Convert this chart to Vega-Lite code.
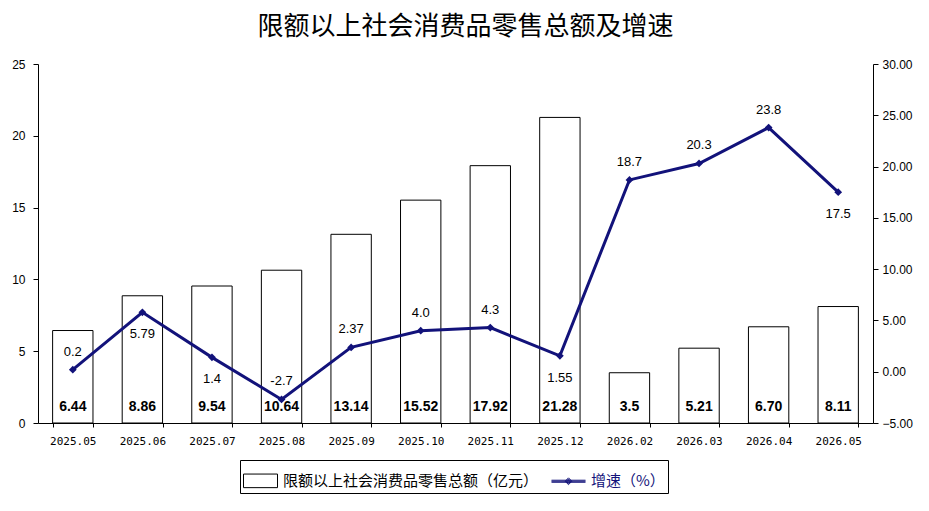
{
  "$schema": "https://vega.github.io/schema/vega-lite/v6.json",
  "width": 835,
  "height": 359,
  "autosize": {"type": "none"},
  "padding": {"left": 38, "top": 64, "right": 56, "bottom": 88},
  "title": {
    "text": "限额以上社会消费品零售总额及增速",
    "font": "Noto Sans CJK SC",
    "fontSize": 26,
    "fontWeight": "normal",
    "color": "#000000",
    "offset": 18,
    "dx": 10
  },
  "data": {
    "values": [
      {"month": "2025.05", "sales": 6.44, "sales_label": "6.44", "growth": 0.2, "growth_label": "0.2"},
      {"month": "2025.06", "sales": 8.86, "sales_label": "8.86", "growth": 5.79, "growth_label": "5.79"},
      {"month": "2025.07", "sales": 9.54, "sales_label": "9.54", "growth": 1.4, "growth_label": "1.4"},
      {"month": "2025.08", "sales": 10.64, "sales_label": "10.64", "growth": -2.7, "growth_label": "-2.7"},
      {"month": "2025.09", "sales": 13.14, "sales_label": "13.14", "growth": 2.37, "growth_label": "2.37"},
      {"month": "2025.10", "sales": 15.52, "sales_label": "15.52", "growth": 4.0, "growth_label": "4.0"},
      {"month": "2025.11", "sales": 17.92, "sales_label": "17.92", "growth": 4.3, "growth_label": "4.3"},
      {"month": "2025.12", "sales": 21.28, "sales_label": "21.28", "growth": 1.55, "growth_label": "1.55"},
      {"month": "2026.02", "sales": 3.5, "sales_label": "3.5", "growth": 18.7, "growth_label": "18.7"},
      {"month": "2026.03", "sales": 5.21, "sales_label": "5.21", "growth": 20.3, "growth_label": "20.3"},
      {"month": "2026.04", "sales": 6.70, "sales_label": "6.70", "growth": 23.8, "growth_label": "23.8"},
      {"month": "2026.05", "sales": 8.11, "sales_label": "8.11", "growth": 17.5, "growth_label": "17.5"}
    ]
  },
  "encoding": {
    "x": {
      "field": "month",
      "type": "ordinal",
      "sort": null,
      "title": null,
      "scale": {"paddingInner": 0.42, "paddingOuter": 0.21},
      "axis": {
        "labelAngle": 0,
        "labelFont": "DejaVu Sans Mono",
        "labelFontSize": 11,
        "labelColor": "#000000",
        "labelPadding": 8,
        "domainColor": "#000000",
        "tickColor": "#000000",
        "tickSize": 4,
        "tickBand": "extent"
      }
    }
  },
  "layer": [
    {
      "layer": [
        {
          "mark": {"type": "bar", "fill": "#ffffff", "strokeWidth": 1},
          "encoding": {
            "y": {
              "field": "sales",
              "type": "quantitative",
              "title": null,
              "scale": {"domain": [0, 25], "nice": false},
              "axis": {
                "orient": "left",
                "values": [0, 5, 10, 15, 20, 25],
                "grid": false,
                "labelFont": "Liberation Sans",
                "labelFontSize": 12,
                "labelColor": "#000000",
                "domainColor": "#000000",
                "tickColor": "#000000",
                "tickSize": 5,
                "labelPadding": 8
              }
            },
            "stroke": {
              "datum": "限额以上社会消费品零售总额（亿元）",
              "type": "nominal",
              "scale": {
                "domain": ["限额以上社会消费品零售总额（亿元）", "增速（%）"],
                "range": ["#000000", "#12127a"]
              },
              "legend": {
                "orient": "none",
                "legendX": 202,
                "legendY": 396,
                "direction": "horizontal",
                "title": null,
                "strokeColor": "#000000",
                "padding": 3,
                "columnPadding": 10,
                "labelOffset": 5,
                "labelFont": "Noto Sans CJK SC",
                "labelFontSize": 15,
                "labelLimit": 400,
                "labelColor": {"expr": "datum.value == '增速（%）' ? '#12127a' : '#000000'"},
                "symbolSize": 1156,
                "symbolStrokeWidth": 1,
                "symbolType": {"expr": "datum.value == '增速（%）' ? 'M-1,-0.06H1M-1,0H1M-1,0.06H1M-0.2,0L0,-0.2L0.2,0L0,0.2ZM-0.13,0L0,-0.13L0.13,0L0,0.13ZM-0.06,0L0,-0.06L0.06,0L0,0.06Z' : 'M-1,-0.4H1V0.4H-1Z'"}
              }
            }
          }
        },
        {
          "mark": {"type": "text", "font": "Liberation Sans", "fontSize": 14, "fontWeight": "bold", "color": "#000000"},
          "encoding": {
            "y": {"datum": 1.1, "type": "quantitative", "scale": {"domain": [0, 25], "nice": false}},
            "text": {"field": "sales_label"}
          }
        }
      ]
    },
    {
      "layer": [
        {
          "mark": {"type": "line", "strokeWidth": 3, "color": "#12127a"},
          "encoding": {
            "y": {
              "field": "growth",
              "type": "quantitative",
              "title": null,
              "scale": {"domain": [-5, 30], "nice": false},
              "axis": {
                "orient": "right",
                "values": [-5, 0, 5, 10, 15, 20, 25, 30],
                "format": ".2f",
                "grid": false,
                "labelFont": "Liberation Sans",
                "labelFontSize": 12,
                "labelColor": "#000000",
                "domainColor": "#000000",
                "tickColor": "#000000",
                "tickSize": 5,
                "labelPadding": 4
              }
            }
          }
        },
        {
          "mark": {"type": "point", "shape": "diamond", "filled": true, "size": 60, "color": "#12127a", "opacity": 1},
          "encoding": {
            "y": {"field": "growth", "type": "quantitative"}
          }
        },
        {
          "transform": [
            {"filter": {"field": "month", "oneOf": ["2025.05", "2025.08", "2025.09", "2025.10", "2025.11", "2026.02", "2026.03", "2026.04"]}}
          ],
          "mark": {"type": "text", "font": "Liberation Sans", "fontSize": 13, "color": "#000000", "dy": -18},
          "encoding": {
            "y": {"field": "growth", "type": "quantitative"},
            "text": {"field": "growth_label"}
          }
        },
        {
          "transform": [
            {"filter": {"field": "month", "oneOf": ["2025.06", "2025.07", "2025.12", "2026.05"]}}
          ],
          "mark": {"type": "text", "font": "Liberation Sans", "fontSize": 13, "color": "#000000", "dy": 22},
          "encoding": {
            "y": {"field": "growth", "type": "quantitative"},
            "text": {"field": "growth_label"}
          }
        }
      ]
    }
  ],
  "resolve": {"scale": {"y": "independent"}},
  "config": {
    "background": "#ffffff",
    "view": {"stroke": null},
    "font": "Liberation Sans"
  }
}
